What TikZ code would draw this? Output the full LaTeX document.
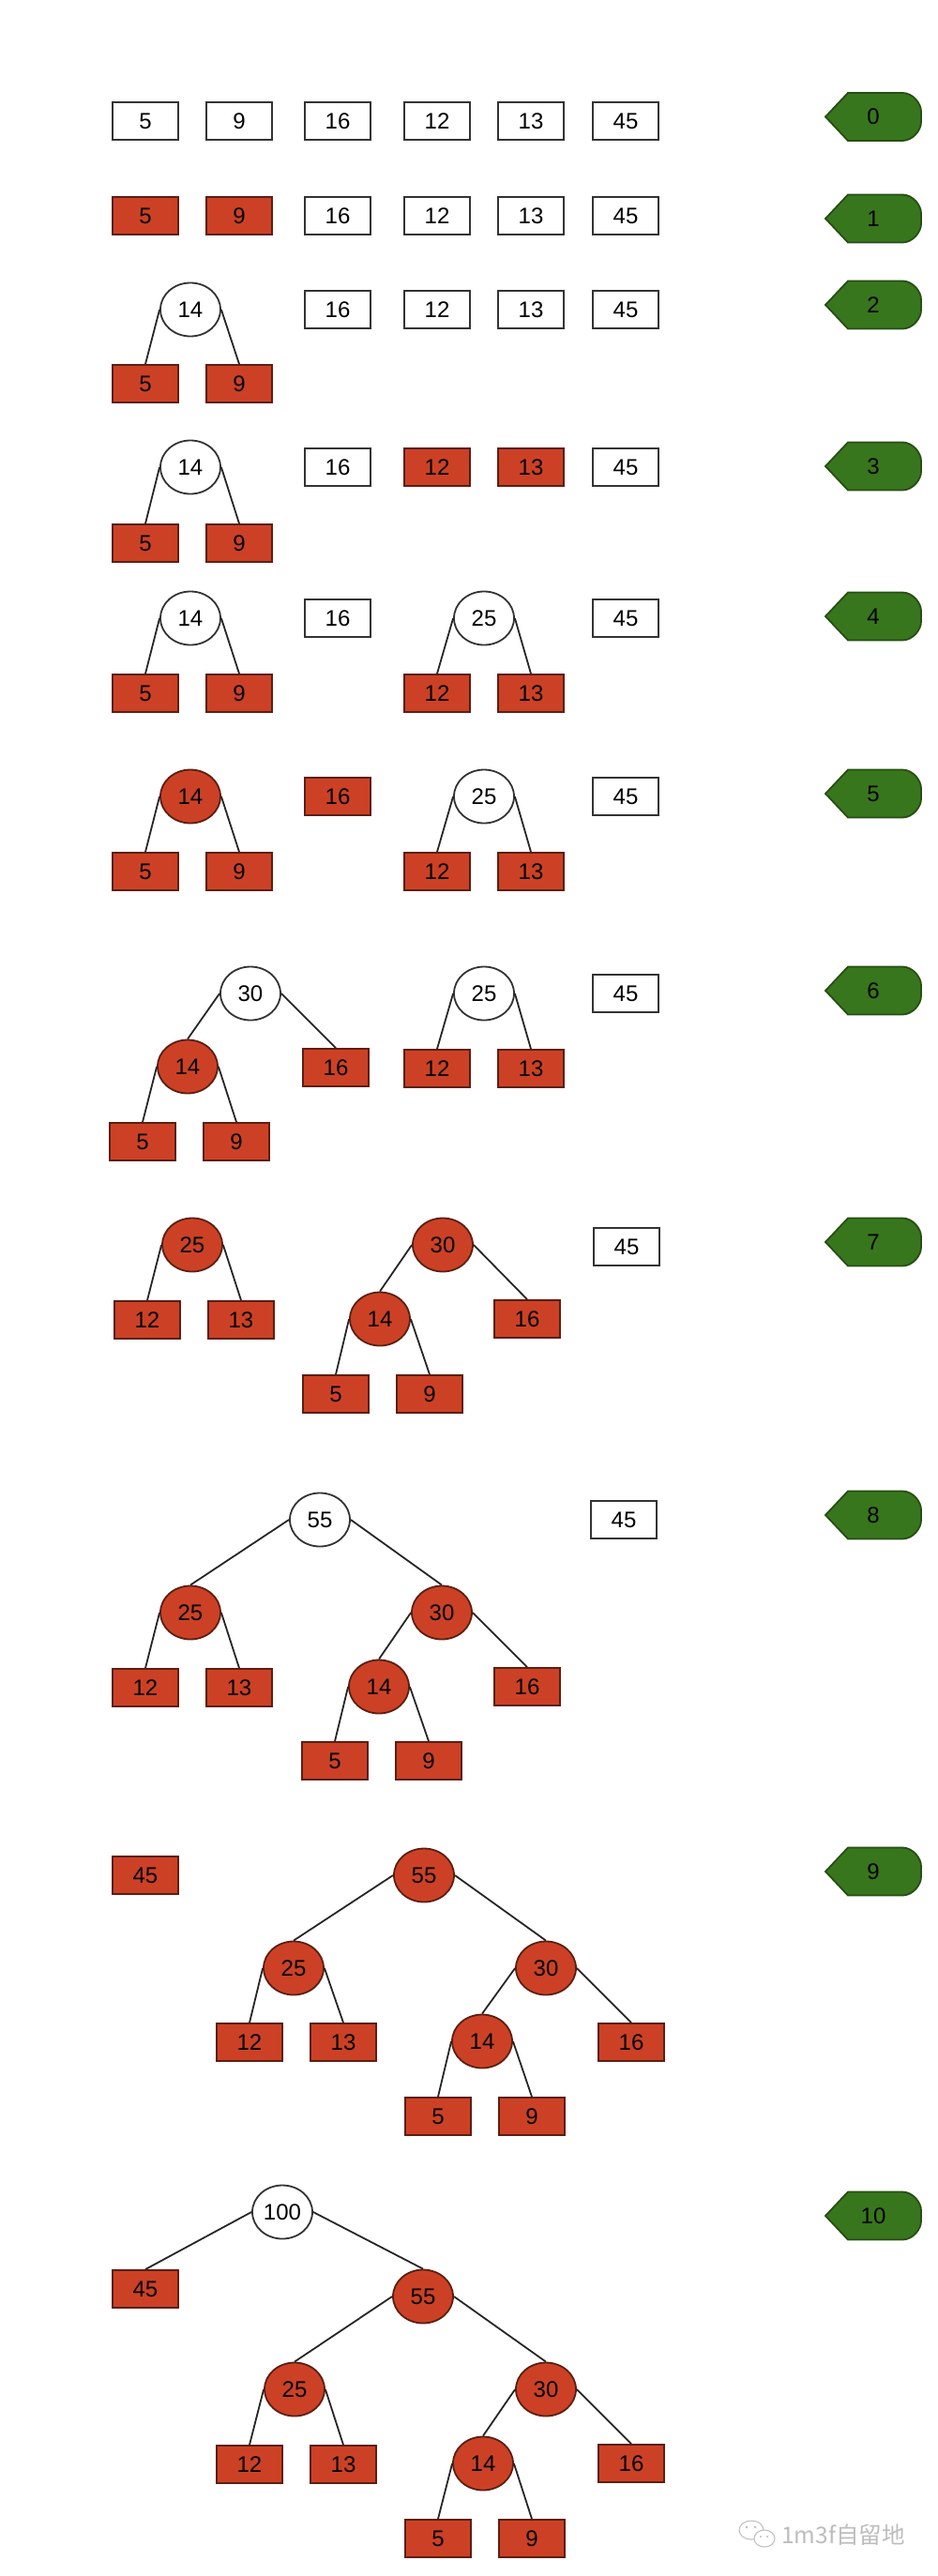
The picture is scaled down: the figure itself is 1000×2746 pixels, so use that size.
\documentclass[tikz,border=0pt]{standalone}
\usepackage{fontspec}
\setmainfont{Liberation Sans}
\newfontfamily\cjk{Noto Sans CJK SC}
\usetikzlibrary{shapes.geometric}
\definecolor{redfill}{HTML}{CC4125}
\definecolor{redline}{HTML}{5B1F12}
\definecolor{greenfill}{HTML}{38761D}
\definecolor{greenline}{HTML}{274E13}
\definecolor{boxline}{HTML}{333333}
\definecolor{wmark}{HTML}{BDBDBD}
\newcommand{\steptag}[3]{%
  \draw[tagshape] (880,#2) -- (904,#2-25.5) -- (962,#2-25.5)
    .. controls (973,#2-25.5) and (982,#2-14.5) .. (982,#2-5.5)
    -- (982,#2+5.5)
    .. controls (982,#2+14.5) and (973,#2+25.5) .. (962,#2+25.5)
    -- (904,#2+25.5) -- cycle;
  \node[taglabel] (#1) at (931,#2) {#3};
}
\begin{document}
\begin{tikzpicture}[x=1pt,y=-1pt,
  every node/.style={font=\fontsize{24}{28}\selectfont},
  wbox/.style={rectangle, draw=boxline, fill=white, line width=1.8pt, minimum width=70pt, minimum height=40pt, inner sep=0pt},
  rbox/.style={wbox, draw=redline, fill=redfill},
  wcirc/.style={ellipse, draw=boxline, fill=white, line width=1.8pt, minimum width=64pt, minimum height=57pt, inner sep=0pt},
  rcirc/.style={wcirc, draw=redline, fill=redfill},
  link/.style={line width=1.8pt, draw=black!85},
  tagshape/.style={fill=greenfill, draw=greenline, line width=1.8pt},
  taglabel/.style={inner sep=0pt, text=black}
]
\fill[white] (0,0) rectangle (1000,2746);
\useasboundingbox (0,0) rectangle (1000,2746);

% ---------- row 0
\node[wbox] (r0a) at (155,129) {5};
\node[wbox] (r0b) at (255,129) {9};
\node[wbox] (r0c) at (360,129) {16};
\node[wbox] (r0d) at (466,129) {12};
\node[wbox] (r0e) at (566,129) {13};
\node[wbox] (r0f) at (667,129) {45};
\steptag{t0}{124.5}{0}

% ---------- row 1
\node[rbox] (r1a) at (155,230) {5};
\node[rbox] (r1b) at (255,230) {9};
\node[wbox] (r1c) at (360,230) {16};
\node[wbox] (r1d) at (466,230) {12};
\node[wbox] (r1e) at (566,230) {13};
\node[wbox] (r1f) at (667,230) {45};
\steptag{t1}{233}{1}

% ---------- row 2
\node[rbox] (r2a) at (155,409) {5};
\node[rbox] (r2b) at (255,409) {9};
\node[wcirc] (r2p) at (203,330) {14};
\draw[link] (r2p.west) -- (r2a.north);
\draw[link] (r2p.east) -- (r2b.north);
\node[wbox] (r2c) at (360,330) {16};
\node[wbox] (r2d) at (466,330) {12};
\node[wbox] (r2e) at (566,330) {13};
\node[wbox] (r2f) at (667,330) {45};
\steptag{t2}{325}{2}

% ---------- row 3
\node[rbox] (r3a) at (155,579) {5};
\node[rbox] (r3b) at (255,579) {9};
\node[wcirc] (r3p) at (203,498) {14};
\draw[link] (r3p.west) -- (r3a.north);
\draw[link] (r3p.east) -- (r3b.north);
\node[wbox] (r3c) at (360,498) {16};
\node[rbox] (r3d) at (466,498) {12};
\node[rbox] (r3e) at (566,498) {13};
\node[wbox] (r3f) at (667,498) {45};
\steptag{t3}{497}{3}

% ---------- row 4
\node[rbox] (r4a) at (155,739) {5};
\node[rbox] (r4b) at (255,739) {9};
\node[wcirc] (r4p) at (203,659) {14};
\draw[link] (r4p.west) -- (r4a.north);
\draw[link] (r4p.east) -- (r4b.north);
\node[wbox] (r4c) at (360,659) {16};
\node[rbox] (r4d) at (466,739) {12};
\node[rbox] (r4e) at (566,739) {13};
\node[wcirc] (r4q) at (516,659) {25};
\draw[link] (r4q.west) -- (r4d.north);
\draw[link] (r4q.east) -- (r4e.north);
\node[wbox] (r4f) at (667,659) {45};
\steptag{t4}{657}{4}

% ---------- row 5
\node[rbox] (r5a) at (155,929) {5};
\node[rbox] (r5b) at (255,929) {9};
\node[rcirc] (r5p) at (203,849) {14};
\draw[link] (r5p.west) -- (r5a.north);
\draw[link] (r5p.east) -- (r5b.north);
\node[rbox] (r5c) at (360,849) {16};
\node[rbox] (r5d) at (466,929) {12};
\node[rbox] (r5e) at (566,929) {13};
\node[wcirc] (r5q) at (516,849) {25};
\draw[link] (r5q.west) -- (r5d.north);
\draw[link] (r5q.east) -- (r5e.north);
\node[wbox] (r5f) at (667,849) {45};
\steptag{t5}{846}{5}

% ---------- row 6
\node[rbox] (r6a) at (152,1217) {5};
\node[rbox] (r6b) at (252,1217) {9};
\node[rcirc] (r6p) at (200,1137) {14};
\node[rbox] (r6c) at (358,1138) {16};
\node[wcirc] (r6r) at (267,1059) {30};
\draw[link] (r6p.west) -- (r6a.north);
\draw[link] (r6p.east) -- (r6b.north);
\draw[link] (r6r.west) -- (r6p.north);
\draw[link] (r6r.east) -- (r6c.north);
\node[rbox] (r6d) at (466,1139) {12};
\node[rbox] (r6e) at (566,1139) {13};
\node[wcirc] (r6q) at (516,1059) {25};
\draw[link] (r6q.west) -- (r6d.north);
\draw[link] (r6q.east) -- (r6e.north);
\node[wbox] (r6f) at (667,1059) {45};
\steptag{t6}{1056}{6}

% ---------- row 7
\node[rbox] (r7d) at (157,1407) {12};
\node[rbox] (r7e) at (257,1407) {13};
\node[rcirc] (r7q) at (205,1327) {25};
\draw[link] (r7q.west) -- (r7d.north);
\draw[link] (r7q.east) -- (r7e.north);
\node[rbox] (r7a) at (358,1486) {5};
\node[rbox] (r7b) at (458,1486) {9};
\node[rcirc] (r7p) at (405,1406) {14};
\node[rbox] (r7c) at (562,1406) {16};
\node[rcirc] (r7r) at (472,1327) {30};
\draw[link] (r7p.west) -- (r7a.north);
\draw[link] (r7p.east) -- (r7b.north);
\draw[link] (r7r.west) -- (r7p.north);
\draw[link] (r7r.east) -- (r7c.north);
\node[wbox] (r7f) at (668,1329) {45};
\steptag{t7}{1324}{7}

% ---------- row 8
\node[rbox] (r8d) at (155,1799) {12};
\node[rbox] (r8e) at (255,1799) {13};
\node[rcirc] (r8q) at (203,1719) {25};
\node[rbox] (r8a) at (357,1877) {5};
\node[rbox] (r8b) at (457,1877) {9};
\node[rcirc] (r8p) at (404,1798) {14};
\node[rbox] (r8c) at (562,1798) {16};
\node[rcirc] (r8r) at (471,1719) {30};
\node[wcirc] (r8s) at (341,1620) {55};
\draw[link] (r8q.west) -- (r8d.north);
\draw[link] (r8q.east) -- (r8e.north);
\draw[link] (r8p.west) -- (r8a.north);
\draw[link] (r8p.east) -- (r8b.north);
\draw[link] (r8r.west) -- (r8p.north);
\draw[link] (r8r.east) -- (r8c.north);
\draw[link] (r8s.west) -- (r8q.north);
\draw[link] (r8s.east) -- (r8r.north);
\node[wbox] (r8f) at (665,1620) {45};
\steptag{t8}{1615}{8}

% ---------- row 9
\node[rbox] (r9f) at (155,1999) {45};
\node[rbox] (r9d) at (266,2177) {12};
\node[rbox] (r9e) at (366,2177) {13};
\node[rcirc] (r9q) at (313,2098) {25};
\node[rbox] (r9a) at (467,2256) {5};
\node[rbox] (r9b) at (567,2256) {9};
\node[rcirc] (r9p) at (514,2176) {14};
\node[rbox] (r9c) at (673,2177) {16};
\node[rcirc] (r9r) at (582,2098) {30};
\node[rcirc] (r9s) at (452,1999) {55};
\draw[link] (r9q.west) -- (r9d.north);
\draw[link] (r9q.east) -- (r9e.north);
\draw[link] (r9p.west) -- (r9a.north);
\draw[link] (r9p.east) -- (r9b.north);
\draw[link] (r9r.west) -- (r9p.north);
\draw[link] (r9r.east) -- (r9c.north);
\draw[link] (r9s.west) -- (r9q.north);
\draw[link] (r9s.east) -- (r9r.north);
\steptag{t9}{1995}{9}

% ---------- row 10
\node[rbox] (s0f) at (155,2440) {45};
\node[rbox] (s0d) at (266,2627) {12};
\node[rbox] (s0e) at (366,2627) {13};
\node[rcirc] (s0q) at (314,2547) {25};
\node[rbox] (s0a) at (467,2706) {5};
\node[rbox] (s0b) at (567,2706) {9};
\node[rcirc] (s0p) at (515,2626) {14};
\node[rbox] (s0c) at (673,2626) {16};
\node[rcirc] (s0r) at (582,2547) {30};
\node[rcirc] (s0s) at (451,2448) {55};
\node[wcirc] (s0t) at (301,2358) {100};
\draw[link] (s0q.west) -- (s0d.north);
\draw[link] (s0q.east) -- (s0e.north);
\draw[link] (s0p.west) -- (s0a.north);
\draw[link] (s0p.east) -- (s0b.north);
\draw[link] (s0r.west) -- (s0p.north);
\draw[link] (s0r.east) -- (s0c.north);
\draw[link] (s0s.west) -- (s0q.north);
\draw[link] (s0s.east) -- (s0r.north);
\draw[link] (s0t.west) -- (s0f.north);
\draw[link] (s0t.east) -- (s0s.north);
\steptag{t10}{2362}{10}

% ---------- watermark
\draw[wmark, line width=1pt] (801,2697) ellipse [x radius=13, y radius=10];
\draw[wmark, line width=1pt, fill=white] (815,2706) ellipse [x radius=11, y radius=9];
\fill[wmark] (796,2694) circle (1.4) (805,2694) circle (1.4) (811,2704) circle (1.2) (818,2704) circle (1.2);
\node[anchor=west, inner sep=0pt, text=wmark, font=\cjk\fontsize{24.5}{28}\selectfont] (wm) at (833,2702) {1m3f自留地};
\end{tikzpicture}
\end{document}
